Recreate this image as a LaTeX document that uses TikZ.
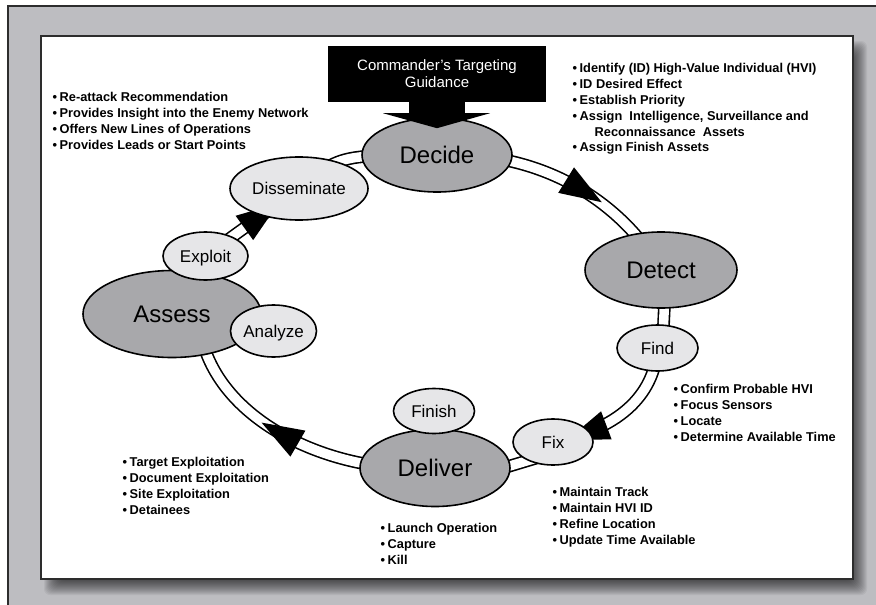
\documentclass[tikz,border=0pt]{standalone}
\usepackage{fontspec}
\setmainfont{Liberation Sans}
\usetikzlibrary{shapes.geometric,decorations.markings,calc}
\pgfdeclarelayer{frame}
\pgfdeclarelayer{ring}
\pgfsetlayers{frame,ring,main}
\definecolor{bggray}{RGB}{189,189,193}
\definecolor{bigfill}{RGB}{168,168,171}
\definecolor{smallfill}{RGB}{230,230,232}
\definecolor{edgegray}{RGB}{45,45,45}
\newcommand\bul{\textbullet\kern2.5pt}
\begin{document}
\begin{tikzpicture}[x=1pt,y=-1pt,
  bigell/.style={ellipse, draw=black, line width=1.6pt, fill=bigfill, inner sep=0pt, text depth=0pt, font=\fontsize{24}{28}\selectfont},
  smallell/.style={ellipse, draw=black, line width=1.6pt, fill=smallfill, inner sep=0pt, text depth=0pt, font=\fontsize{17}{20}\selectfont},
  ringline/.style={draw=black, line width=1.6pt, double=white, double distance=9.5pt},
  headat/.style={postaction={decorate}, decoration={markings, mark=at position #1 with {\fill[black] (21,0) -- (-21,15) -- (-21,-15) -- cycle;}}},
  bullets/.style={anchor=north west, inner sep=0pt, align=left, font=\bfseries\fontsize{12.8}{15.8}\selectfont},
  guidebox/.style={fill=black, text=white, inner sep=0pt, minimum width=218pt, minimum height=56pt, align=center, font=\fontsize{15}{17}\selectfont}
]
\useasboundingbox (0,0) rectangle (876,605);

\begin{pgfonlayer}{frame}
  \fill[bggray] (8,6) rectangle (876,605);
  \draw[edgegray, line width=1.3pt] (8,605) -- (8,6) -- (876,6);
  \foreach \d in {0,...,15} \fill[black, opacity=0.05, rounded corners=6pt] (44+\d,41+\d) rectangle (867-\d,595-\d);
  \fill[white] (41,36) rectangle (853,579);
  \draw[edgegray, line width=1.5pt] (41,36) rectangle (853,579);
\end{pgfonlayer}

\node[bigell, minimum width=150pt, minimum height=74pt] (decide) at (437,155) {Decide};
\node[bigell, minimum width=152pt, minimum height=76pt] (detect) at (661,270) {Detect};
\node[smallell, minimum width=81pt, minimum height=46pt] (find) at (657.5,348) {Find};
\node[smallell, minimum width=80pt, minimum height=46pt] (fix) at (553,442) {Fix};
\node[bigell, minimum width=150pt, minimum height=77pt] (deliver) at (435,468) {Deliver};
\node[smallell, minimum width=81pt, minimum height=45pt] (finish) at (434,411) {Finish};
\node[bigell, minimum width=178pt, minimum height=87pt] (assess) at (172,314) {Assess};
\node[smallell, minimum width=86pt, minimum height=52pt] (analyze) at (273.5,331) {Analyze};
\node[smallell, minimum width=85pt, minimum height=48pt] (exploit) at (205.5,256) {Exploit};
\node[smallell, minimum width=138pt, minimum height=63pt] (dissem) at (299,188.5) {Disseminate};

\begin{pgfonlayer}{ring}
  \draw[ringline, headat=0.58] (decide.center) .. controls (540,150) and (620,200) .. (detect.center);
  \draw[ringline] ([xshift=5pt]detect.center) -- ([xshift=5pt]find.center);
  \draw[ringline, headat=-35pt] (find.center) .. controls (655,390) and (625,428) .. (fix.center);
  \draw[ringline] ($(fix.center)+(-5,12.5)$) -- ($(deliver.center)+(35,10)$);
  \draw[ringline, headat=0.545] (deliver.center) .. controls (330,475) and (215,420) .. ($(assess.center)+(28,16)$);
  \draw[ringline, headat=0.6] (exploit.center) -- (dissem.center);
  \draw[ringline] (dissem.center) .. controls (340,155) .. (decide.center);
\end{pgfonlayer}

\node[guidebox] (guide) at (437,74) {Commander’s Targeting\\Guidance};
\fill[black] ($(guide.south)+(-28,0)$) rectangle ($(guide.south)+(28,11)$);
\fill[black] ($(guide.south)+(-54,11)$) -- ($(guide.south)+(53,11)$) -- ($(guide.south)+(0,26)$) -- cycle;

\node[bullets] (lexp) at (52.5,92.5) {\bul Re-attack Recommendation\\\bul Provides Insight into the Enemy Network\\\bul Offers New Lines of Operations\\\bul Provides Leads or Start Points};
\node[bullets] (ldec) at (572.5,63.5) {\bul Identify (ID) High-Value Individual (HVI)\\\bul ID Desired Effect\\\bul Establish Priority\\\bul Assign\ \ Intelligence, Surveillance and\\\hspace*{22pt}Reconnaissance\ \ Assets\\\bul Assign Finish Assets};
\node[bullets] (lfind) at (673.5,384.5) {\bul Confirm Probable HVI\\\bul Focus Sensors\\\bul Locate\\\bul Determine Available Time};
\node[bullets] (lfix) at (552.5,487.5) {\bul Maintain Track\\\bul Maintain HVI ID\\\bul Refine Location\\\bul Update Time Available};
\node[bullets] (lass) at (122.5,457.5) {\bul Target Exploitation\\\bul Document Exploitation\\\bul Site Exploitation\\\bul Detainees};
\node[bullets] (ldel) at (380.5,523.5) {\bul Launch Operation\\\bul Capture\\\bul Kill};
\end{tikzpicture}
\end{document}
